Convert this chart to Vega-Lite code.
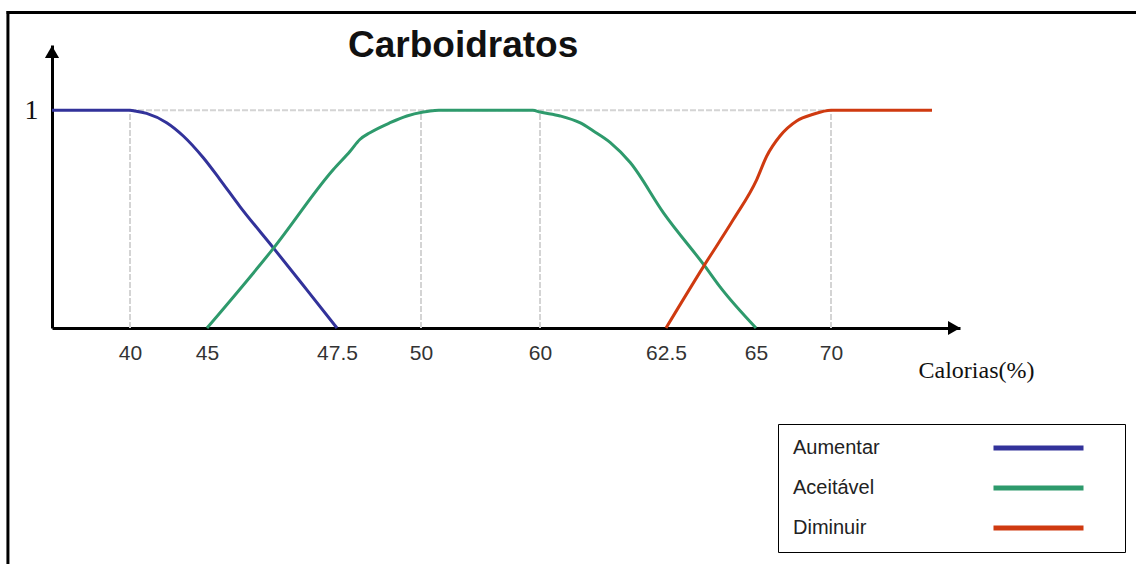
{
  "$schema": "https://vega.github.io/schema/vega-lite/v6.json",
  "autosize": {"type": "none"},
  "width": 908,
  "height": 283,
  "padding": {"left": 52, "top": 45, "right": 176, "bottom": 236},
  "background": "white",
  "config": {"view": {"stroke": null}},
  "title": {
    "text": "Carboidratos",
    "font": "Liberation Sans",
    "fontSize": 37,
    "fontWeight": "bold",
    "color": "#111111",
    "anchor": "start",
    "frame": "group",
    "baseline": "alphabetic",
    "offset": 0,
    "dx": 296,
    "dy": 84
  },
  "datasets": {
    "curves": [
      {"serie": "Aumentar", "x": 36, "y": 1},
      {"serie": "Aumentar", "x": 40, "y": 1},
      {"serie": "Aumentar", "x": 40.32, "y": 0.997},
      {"serie": "Aumentar", "x": 41.08, "y": 0.986},
      {"serie": "Aumentar", "x": 42.38, "y": 0.943},
      {"serie": "Aumentar", "x": 43.46, "y": 0.882},
      {"serie": "Aumentar", "x": 44.76, "y": 0.782},
      {"serie": "Aumentar", "x": 45.25, "y": 0.682},
      {"serie": "Aumentar", "x": 45.63, "y": 0.559},
      {"serie": "Aumentar", "x": 46.28, "y": 0.367},
      {"serie": "Aumentar", "x": 46.92, "y": 0.175},
      {"serie": "Aumentar", "x": 47.5, "y": 0},
      {"serie": "Aceitável", "x": 45, "y": 0},
      {"serie": "Aceitável", "x": 46.28, "y": 0.367},
      {"serie": "Aceitável", "x": 47.43, "y": 0.728},
      {"serie": "Aceitável", "x": 47.89, "y": 0.812},
      {"serie": "Aceitável", "x": 48.18, "y": 0.866},
      {"serie": "Aceitável", "x": 48.48, "y": 0.897},
      {"serie": "Aceitável", "x": 49.08, "y": 0.943},
      {"serie": "Aceitável", "x": 49.58, "y": 0.974},
      {"serie": "Aceitável", "x": 50.19, "y": 0.992},
      {"serie": "Aceitável", "x": 50.76, "y": 0.997},
      {"serie": "Aceitável", "x": 51.5, "y": 1},
      {"serie": "Aceitável", "x": 59.4, "y": 1},
      {"serie": "Aceitável", "x": 60, "y": 0.992},
      {"serie": "Aceitável", "x": 60.4, "y": 0.974},
      {"serie": "Aceitável", "x": 60.79, "y": 0.943},
      {"serie": "Aceitável", "x": 61.06, "y": 0.905},
      {"serie": "Aceitável", "x": 61.39, "y": 0.853},
      {"serie": "Aceitável", "x": 61.79, "y": 0.76},
      {"serie": "Aceitável", "x": 62.45, "y": 0.529},
      {"serie": "Aceitável", "x": 63.58, "y": 0.284},
      {"serie": "Aceitável", "x": 63.99, "y": 0.191},
      {"serie": "Aceitável", "x": 65, "y": 0},
      {"serie": "Diminuir", "x": 62.5, "y": 0},
      {"serie": "Diminuir", "x": 63.54, "y": 0.282},
      {"serie": "Diminuir", "x": 64.37, "y": 0.498},
      {"serie": "Diminuir", "x": 65.05, "y": 0.682},
      {"serie": "Diminuir", "x": 65.71, "y": 0.789},
      {"serie": "Diminuir", "x": 66.6, "y": 0.882},
      {"serie": "Diminuir", "x": 67.71, "y": 0.951},
      {"serie": "Diminuir", "x": 68.82, "y": 0.982},
      {"serie": "Diminuir", "x": 70, "y": 1},
      {"serie": "Diminuir", "x": 75, "y": 1}
    ],
    "grid": [{"x": 40}, {"x": 50}, {"x": 60}, {"x": 70}]
  },
  "layer": [
    {
      "data": {"values": [{}]},
      "mark": {"type": "rule", "clip": false, "color": "black", "strokeWidth": 3},
      "encoding": {
        "x": {"datum": 33.67, "type": "quantitative", "title": "Calorias(%)", "scale": {"domain": [36, 40, 45, 47.5, 50, 60, 62.5, 65, 70, 75, 76], "range": [0, 78, 155, 285, 369, 488, 614, 704, 779, 880, 908], "nice": false, "zero": false}},
        "x2": {"datum": 82.4},
        "y": {"datum": 1.449, "type": "quantitative", "title": null, "scale": {"domain": [0, 1.3], "nice": false, "zero": true}}
      }
    },
    {
      "data": {"values": [{}]},
      "mark": {"type": "rule", "clip": false, "color": "black", "strokeWidth": 3},
      "encoding": {
        "x": {"datum": 33.74, "type": "quantitative", "title": "Calorias(%)"},
        "y": {"datum": 1.456, "type": "quantitative", "title": null},
        "y2": {"datum": -1.2}
      }
    },
    {
      "data": {"name": "grid"},
      "mark": {"type": "rule", "color": "#d4d4d4", "strokeWidth": 2, "strokeDash": [6, 2]},
      "encoding": {
        "x": {"field": "x", "type": "quantitative", "title": "Calorias(%)"},
        "y": {"datum": 0, "type": "quantitative", "title": null},
        "y2": {"datum": 1}
      }
    },
    {
      "data": {"values": [{}]},
      "mark": {"type": "rule", "color": "#d4d4d4", "strokeWidth": 2, "strokeDash": [6, 2]},
      "encoding": {
        "x": {"datum": 40, "type": "quantitative", "title": "Calorias(%)"},
        "x2": {"datum": 70},
        "y": {"datum": 1, "type": "quantitative", "title": null}
      }
    },
    {
      "data": {"name": "curves"},
      "mark": {"type": "line", "strokeWidth": 3, "interpolate": "monotone", "clip": false},
      "encoding": {
        "x": {
          "field": "x", "type": "quantitative", "title": "Calorias(%)",
          "axis": {
            "values": [40, 45, 47.5, 50, 60, 62.5, 65, 70],
            "format": ".3~g",
            "domainColor": "black", "domainWidth": 3,
            "ticks": false, "tickSize": 0, "grid": false,
            "labelFont": "Liberation Sans", "labelFontSize": 21, "labelColor": "#333333",
            "labelPadding": 14, "labelFlush": false, "labelOverlap": false,
            "titleFont": "Liberation Serif", "titleFontSize": 24,
            "titleFontWeight": "normal", "titleColor": "#111111",
            "titleX": 924, "titleY": 49, "titleAlign": "center", "titleBaseline": "alphabetic"
          }
        },
        "y": {
          "field": "y", "type": "quantitative", "title": null,
          "axis": {
            "values": [1],
            "format": ".3~g",
            "domainColor": "black", "domainWidth": 3,
            "ticks": false, "tickSize": 0, "grid": false,
            "labelFont": "Liberation Serif", "labelFontSize": 28, "labelColor": "#111111",
            "labelPadding": 14
          }
        },
        "stroke": {
          "field": "serie", "type": "nominal",
          "scale": {"domain": ["Aumentar", "Aceitável", "Diminuir"], "range": ["#32329a", "#2e9a6c", "#cf3a10"]},
          "legend": {
            "orient": "none", "legendX": 726, "legendY": 379, "title": null,
            "symbolType": "M-6.43,0H6.43M8.9,0", "symbolSize": 196, "symbolStrokeWidth": 5,
            "labelFont": "Liberation Sans", "labelFontSize": 20, "labelColor": "#222222",
            "padding": 14, "rowPadding": 20, "symbolOffset": 236.5, "labelOffset": -255.5,
            "strokeColor": "black", "fillColor": "white"
          }
        }
      }
    },
    {
      "data": {"values": [{"x": 75.79, "y": 0, "shape": "triangle-right"}, {"x": 36, "y": 1.268, "shape": "triangle-up"}]},
      "mark": {"type": "point", "filled": true, "color": "black", "opacity": 1, "size": 200, "clip": false},
      "encoding": {
        "x": {"field": "x", "type": "quantitative", "title": "Calorias(%)"},
        "y": {"field": "y", "type": "quantitative", "title": null},
        "shape": {"field": "shape", "type": "nominal", "scale": null, "legend": null}
      }
    }
  ]
}
